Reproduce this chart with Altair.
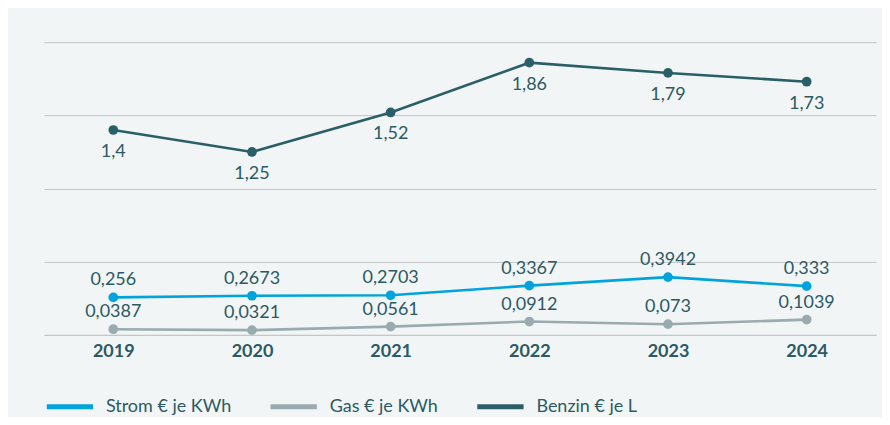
import altair as alt
import pandas as pd

years = ["2019", "2020", "2021", "2022", "2023", "2024"]
strom = [0.256, 0.2673, 0.2703, 0.3367, 0.3942, 0.333]
gas = [0.0387, 0.0321, 0.0561, 0.0912, 0.073, 0.1039]
benzin = [1.4, 1.25, 1.52, 1.86, 1.79, 1.73]
series = ["Strom € je KWh", "Gas € je KWh", "Benzin € je L"]
colors = ["#00a3dc", "#9aabaf", "#2b5f68"]
label_pos = ["above", "above", "below"]

rows = []
for name, vals, pos in zip(series, [strom, gas, benzin], label_pos):
    for yr, v in zip(years, vals):
        rows.append({"Jahr": yr, "Wert": v, "Serie": name,
                     "Label": f"{v:g}".replace(".", ","), "pos": pos})
df = pd.DataFrame(rows)

FONT = "Lato"
TEXT_COLOR = "#2b5a63"

x = alt.X("Jahr:N", sort=years,
          scale=alt.Scale(type="point", padding=0.5),
          axis=alt.Axis(title=None, labelFont=FONT, labelFontWeight="bold",
                        labelFontSize=18, labelColor=TEXT_COLOR, ticks=False,
                        domainColor="#c4c6c7", domainWidth=1, labelPadding=8,
                        labelAngle=0, grid=False))
y = alt.Y("Wert:Q", scale=alt.Scale(domain=[0, 2], nice=False),
          axis=alt.Axis(title=None, labels=False, ticks=False, domain=False,
                        grid=True, gridColor="#c4c6c7", gridWidth=1,
                        values=[0, 0.5, 1, 1.5, 2]))
color_scale = alt.Scale(domain=series, range=colors)

base = alt.Chart(df)

lines = base.mark_line(strokeWidth=2.6).encode(
    x=x, y=y,
    color=alt.Color("Serie:N", scale=color_scale, sort=series,
                    legend=alt.Legend(title=None, orient="none", direction="horizontal",
                                      legendX=0, legendY=339,
                                      symbolType="stroke", symbolSize=2150,
                                      symbolStrokeWidth=5, labelFont=FONT,
                                      labelFontSize=18, labelColor=TEXT_COLOR,
                                      labelOffset=10, columnPadding=28,
                                      symbolOffset=0)),
)
points = base.mark_circle(size=95, opacity=1).encode(
    x=x, y=y, color=alt.Color("Serie:N", scale=color_scale, legend=None))

above = base.transform_filter(alt.datum.pos == "above").mark_text(
    dy=-17, font=FONT, fontSize=18, color=TEXT_COLOR).encode(
    x=x, y=y, text="Label:N")
below = base.transform_filter(alt.datum.pos == "below").mark_text(
    dy=22, font=FONT, fontSize=18, color=TEXT_COLOR).encode(
    x=x, y=y, text="Label:N")

chart = alt.layer(lines, points, above, below).properties(
    width=833, height=293,
    background="#f2f5f6",
    padding={"left": 36, "top": 34, "right": 6, "bottom": 82},
    autosize=alt.AutoSizeParams(type="none"),
).configure_view(stroke=None)

chart.save("out.html", embed_options={"renderer": "svg", "actions": False})
